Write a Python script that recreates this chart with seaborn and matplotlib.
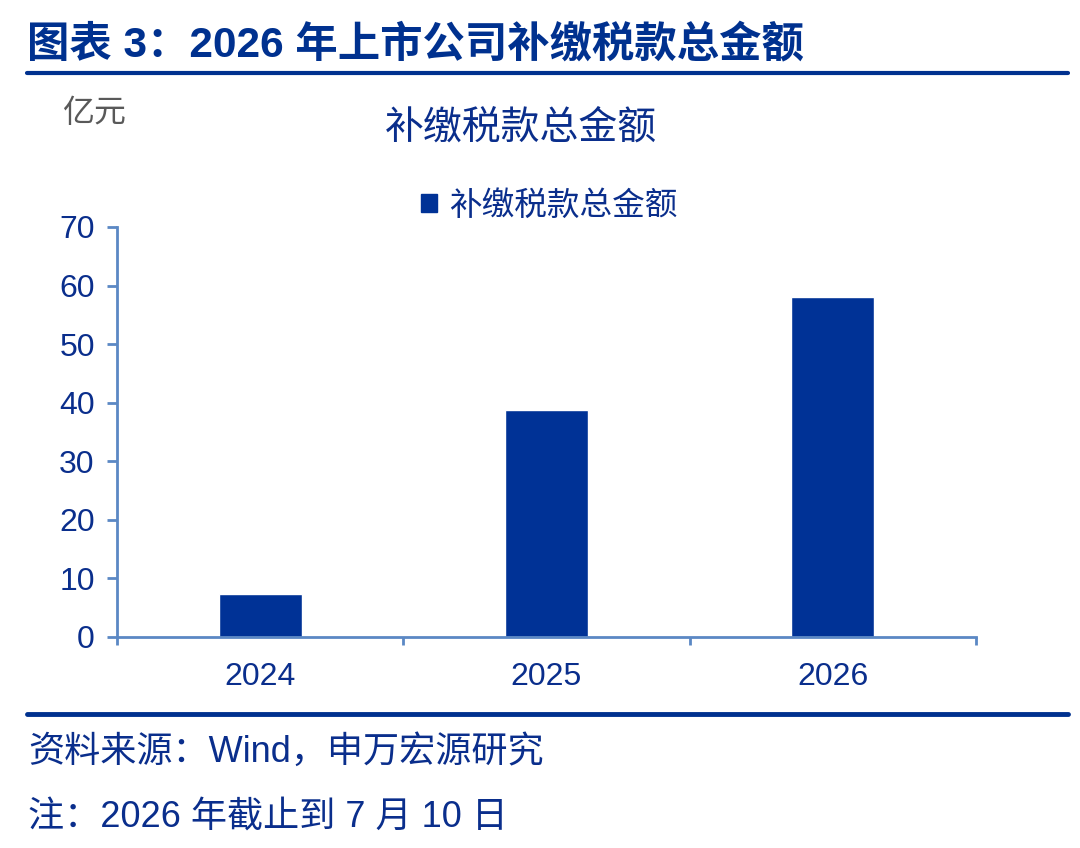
import pandas as pd
import matplotlib
matplotlib.use("Agg")
import matplotlib.pyplot as plt
import seaborn as sns
from matplotlib.lines import Line2D

years = ["2024", "2025", "2026"]
amounts = [7.3, 38.7, 58.0]
series_name = "补缴税款总金额"
y_ticks = [0, 10, 20, 30, 40, 50, 60, 70]

header = "图表 3：2026 年上市公司补缴税款总金额"
unit = "亿元"
source = "资料来源：Wind，申万宏源研究"
note = "注：2026 年截止到 7 月 10 日"

sns.set_theme(style="white")
plt.rcParams["font.family"] = ["Liberation Sans", "Noto Sans CJK SC"]

BLUE = "#003296"
TEXT_BLUE = "#0A2E8C"
AXIS = "#5B88C4"

df = pd.DataFrame({"year": years, "amount": amounts})

fig = plt.figure(figsize=(10.8, 8.48), dpi=100)
ax = fig.add_axes([117 / 1080, 1 - 637 / 848, (976 - 117) / 1080, (637 - 227) / 848])

sns.barplot(data=df, x="year", y="amount", color=BLUE, width=0.29,
            saturation=1, ax=ax)

ax.set_xlim(-0.5, 2.5)
ax.set_ylim(0, 70)
ax.set_yticks(y_ticks)
ax.set_xlabel("")
ax.set_ylabel("")

for s in ["top", "right"]:
    ax.spines[s].set_visible(False)
for s in ["left", "bottom"]:
    ax.spines[s].set_color(AXIS)
    ax.spines[s].set_linewidth(2)

ax.tick_params(axis="y", direction="out", length=7, width=2, color=AXIS,
               labelsize=23, labelcolor=TEXT_BLUE, pad=9, left=True)
ax.tick_params(axis="x", which="major", length=0, labelsize=23,
               labelcolor=TEXT_BLUE, pad=18)
ax.set_xticks([-0.5, 0.5, 1.5, 2.5], minor=True)
ax.tick_params(axis="x", which="minor", direction="out", length=6, width=2,
               color=AXIS, bottom=True)

handle = plt.Rectangle((0, 0), 1, 1, color=BLUE)
fig.legend([handle], [series_name], loc="center",
           bbox_to_anchor=(549 / 1080, 1 - 206 / 848), frameon=False,
           fontsize=23.5, handlelength=0.5, handleheight=0.5, handletextpad=0.35,
           labelcolor=TEXT_BLUE)

fig.text(27 / 1080, 1 - 46 / 848, header, fontsize=30.5, fontweight="bold",
         color="#00318F", ha="left", va="center")
fig.add_artist(Line2D([27 / 1080, 1068 / 1080], [1 - 73 / 848, 1 - 73 / 848],
                      color="#00318F", lw=3))
fig.text(62 / 1080, 1 - 114 / 848, unit, fontsize=23, color="#595959",
         ha="left", va="center")
fig.text(521 / 1080, 1 - 128 / 848, series_name, fontsize=28, color=TEXT_BLUE,
         ha="center", va="center")

fig.add_artist(Line2D([27 / 1080, 1068 / 1080], [1 - 714 / 848, 1 - 714 / 848],
                      color="#00318F", lw=3.5))
fig.text(28 / 1080, 1 - 752 / 848, source, fontsize=26, color=TEXT_BLUE,
         ha="left", va="center")
fig.text(28 / 1080, 1 - 818 / 848, note, fontsize=26, color=TEXT_BLUE,
         ha="left", va="center")

fig.savefig("out.png", dpi=100)
